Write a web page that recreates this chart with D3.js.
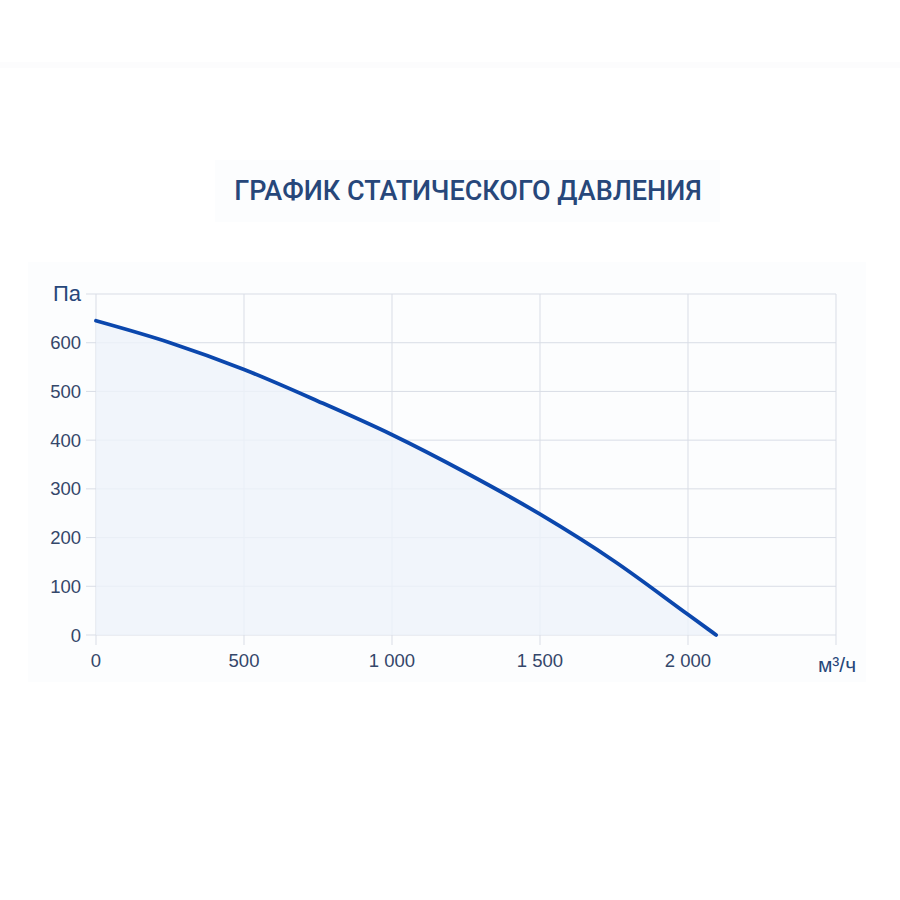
<!DOCTYPE html>
<html>
<head>
<meta charset="utf-8">
<script src="https://cdn.jsdelivr.net/npm/d3@7/dist/d3.min.js"></script>
<style>
  html, body { margin: 0; padding: 0; background: #ffffff; }
  svg { display: block; font-family: "Liberation Sans", Arial, sans-serif; }
</style>
</head>
<body>
<svg id="chart" width="900" height="900"></svg>
<script>
// airflow, m3/h
var flows = [0, 250, 500, 750, 1000, 1250, 1500, 1750, 2000, 2095];
// static pressure, Pa
var pressures = [645, 600, 545, 480, 411, 333, 248, 152, 42, 0];
var xTicks = [0, 500, 1000, 1500, 2000, 2500];
var yTicks = [0, 100, 200, 300, 400, 500, 600, 700];

var svg = d3.select("#chart");

// faint page panels
svg.append("rect").attr("x", 0).attr("y", 62).attr("width", 900).attr("height", 6).attr("fill", "#fcfcfd");
svg.append("rect").attr("x", 215).attr("y", 160).attr("width", 505).attr("height", 62).attr("fill", "#fcfdfe");
svg.append("rect").attr("x", 28).attr("y", 262).attr("width", 838).attr("height", 420).attr("fill", "#fcfdfe");

svg.append("text")
  .attr("x", 468).attr("y", 200)
  .attr("text-anchor", "middle")
  .attr("fill", "#27477a")
  .attr("font-family", "Roboto, sans-serif")
  .attr("font-size", 27)
  .attr("font-weight", 500)
  .text("ГРАФИК СТАТИЧЕСКОГО ДАВЛЕНИЯ");

var x = d3.scaleLinear().domain([0, 2500]).range([96, 836]);
var y = d3.scaleLinear().domain([0, 700]).range([635, 294]);

var pts = flows.map(function(f, i) { return [f, pressures[i]]; });

// grid
svg.append("g").selectAll("line").data(yTicks).join("line")
  .attr("x1", 86).attr("x2", 836)
  .attr("y1", function(d) { return y(d); }).attr("y2", function(d) { return y(d); })
  .attr("stroke", "#d9dde6").attr("stroke-width", 1);
svg.append("g").selectAll("line").data(xTicks).join("line")
  .attr("x1", function(d) { return x(d); }).attr("x2", function(d) { return x(d); })
  .attr("y1", 294).attr("y2", 645)
  .attr("stroke", "#d9dde6").attr("stroke-width", 1);

// area + line
svg.append("path")
  .datum(pts)
  .attr("fill", "#eef3fa").attr("fill-opacity", 0.8)
  .attr("d", d3.area()
    .x(function(d) { return x(d[0]); })
    .y0(y(0))
    .y1(function(d) { return y(d[1]); })
    .curve(d3.curveMonotoneX));

svg.append("path")
  .datum(pts)
  .attr("fill", "none")
  .attr("stroke", "#0b47ad")
  .attr("stroke-width", 3.8)
  .attr("stroke-linecap", "round")
  .attr("d", d3.line()
    .x(function(d) { return x(d[0]); })
    .y(function(d) { return y(d[1]); })
    .curve(d3.curveMonotoneX));

var fmt = function(v) { return d3.format(",")(v).replace(/,/g, " "); };

svg.append("g").selectAll("text").data(yTicks.slice(0, -1)).join("text")
  .attr("x", 81).attr("y", function(d) { return y(d) + 6.5; })
  .attr("text-anchor", "end")
  .attr("fill", "#34476a").attr("font-size", 18.5)
  .text(function(d) { return d; });

svg.append("g").selectAll("text").data(xTicks.slice(0, -1)).join("text")
  .attr("x", function(d) { return x(d); }).attr("y", 667)
  .attr("text-anchor", "middle")
  .attr("fill", "#34476a").attr("font-size", 18.5)
  .text(fmt);

svg.append("text")
  .attr("x", 81).attr("y", 301)
  .attr("text-anchor", "end")
  .attr("fill", "#27477a").attr("font-size", 22)
  .text("Па");

svg.append("text")
  .attr("x", 837).attr("y", 672)
  .attr("text-anchor", "middle")
  .attr("fill", "#27477a").attr("font-size", 21)
  .text("м³/ч");
</script>
</body>
</html>
